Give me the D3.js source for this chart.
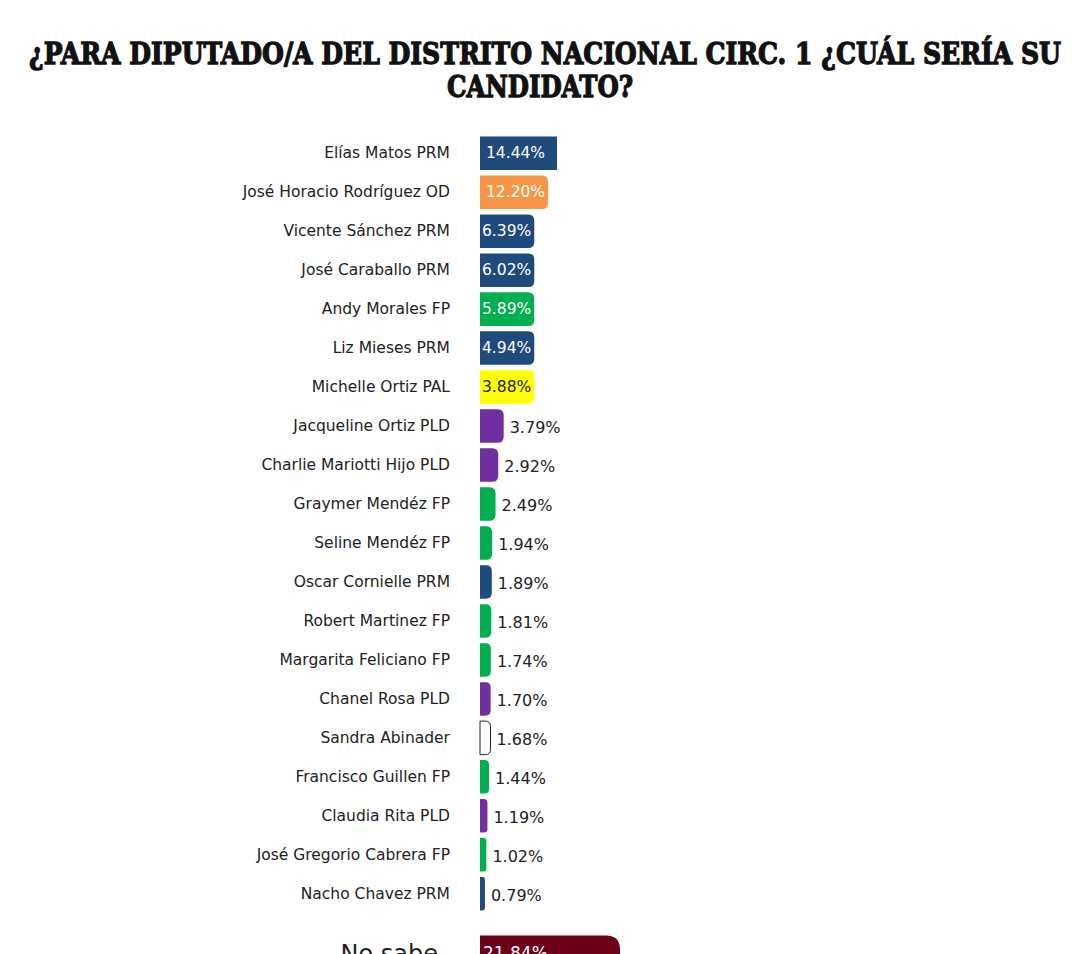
<!doctype html>
<html lang="es">
<head>
  <meta charset="utf-8">
  <title>Diputado/a Distrito Nacional Circ. 1</title>
  <style>
    html, body { margin: 0; padding: 0; background: #fff; }
    svg { display: block; }
    .title { font-family: "DejaVu Serif", serif; font-weight: bold; fill: #111; stroke: #111; stroke-width: 1.3px; }
    .name { font-family: "DejaVu Sans", Verdana, sans-serif; font-size: 15.5px; fill: #222; }
    .val { font-family: "DejaVu Sans", Verdana, sans-serif; font-size: 16px; fill: #222; }
    .inval { font-family: "DejaVu Sans", Verdana, sans-serif; font-size: 15.5px; }
  </style>
</head>
<body>
<svg width="1080" height="954"></svg>
<script src="https://d3js.org/d3.v7.min.js"></script>
<script>

  // data
  var candidates = ["Elías Matos PRM", "José Horacio Rodríguez OD", "Vicente Sánchez PRM", "José Caraballo PRM",
    "Andy Morales FP", "Liz Mieses PRM", "Michelle Ortiz PAL", "Jacqueline Ortiz PLD", "Charlie Mariotti Hijo PLD",
    "Graymer Mendéz FP", "Seline Mendéz FP", "Oscar Cornielle PRM", "Robert Martinez FP", "Margarita Feliciano FP",
    "Chanel Rosa PLD", "Sandra Abinader", "Francisco Guillen FP", "Claudia Rita PLD", "José Gregorio Cabrera FP",
    "Nacho Chavez PRM"];
  var values = [14.44, 12.20, 6.39, 6.02, 5.89, 4.94, 3.88, 3.79, 2.92, 2.49, 1.94, 1.89, 1.81, 1.74, 1.70, 1.68,
    1.44, 1.19, 1.02, 0.79];
  var parties = ["PRM", "OD", "PRM", "PRM", "FP", "PRM", "PAL", "PLD", "PLD", "FP", "FP", "PRM", "FP", "FP", "PLD",
    "IND", "FP", "PLD", "FP", "PRM"];
  var noSabeLabel = "No sabe";
  var noSabeValue = 21.84;

  var partyColor = {
    PRM: "#1f4a7c", OD: "#f79646", FP: "#00b050", PAL: "#ffff00", PLD: "#7030a0", IND: "#ffffff", NS: "#6d0019"
  };

  var svg = d3.select("svg");
  var x0 = 480;

  // title
  var title = svg.append("text").attr("class", "title").attr("text-anchor", "middle");
  title.append("tspan").attr("x", 545).attr("y", 64).style("font-size", "30px")
    .attr("textLength", 1032).attr("lengthAdjust", "spacingAndGlyphs")
    .text("¿PARA DIPUTADO/A DEL DISTRITO NACIONAL CIRC. 1 ¿CUÁL SERÍA SU");
  title.append("tspan").attr("x", 540).attr("y", 97).style("font-size", "30px")
    .attr("textLength", 186).attr("lengthAdjust", "spacingAndGlyphs")
    .text("CANDIDATO?");

  var rows = candidates.map(function (c, i) {
    return { name: c, value: values[i], party: parties[i], inside: values[i] >= 3.85 };
  });

  var y = d3.scaleBand().domain(candidates).range([131, 916]).padding(0.14);
  var x = d3.scaleLinear().domain([0, 4, 14.44, 21.84]).range([0, 25, 77, 140]);

  function barPath(w, h, r) {
    r = Math.min(r, w / 2, h / 2);
    return "M0,0H" + (w - r) + "Q" + w + ",0 " + w + "," + r + "V" + (h - r) +
      "Q" + w + "," + h + " " + (w - r) + "," + h + "H0Z";
  }

  var fmt = function (v) { return v.toFixed(2) + "%"; };

  var g = svg.append("g");
  var row = g.selectAll("g.row").data(rows).enter().append("g")
    .attr("class", "row")
    .attr("transform", function (d) { return "translate(0," + y(d.name) + ")"; });

  row.append("text").attr("class", "name")
    .attr("x", 450).attr("y", y.bandwidth() / 2 + 5)
    .attr("text-anchor", "end")
    .text(function (d) { return d.name; });

  // inside labels first, so bars can be sized to fit them
  row.each(function (d) {
    var sel = d3.select(this);
    var w = x(d.value);
    var label = null;
    if (d.inside) {
      var pad = d.value > 10 ? 6 : 2;
      label = sel.append("text").attr("class", "inval")
        .attr("x", x0 + pad).attr("y", y.bandwidth() / 2 + 5)
        .style("fill", d.party === "PAL" ? "#222" : "#fff")
        .text(fmt(d.value));
      w = Math.max(w, label.node().getComputedTextLength() + pad + 3);
    }
    sel.insert("path", label ? "text.inval" : null)
      .attr("transform", "translate(" + x0 + ",0)")
      .attr("d", barPath(w, y.bandwidth(), d.party === "PRM" && d.value > 10 ? 0 : 6))
      .style("fill", partyColor[d.party])
      .style("stroke", d.party === "IND" ? "#222" : "none")
      .style("stroke-width", 1);
    if (!d.inside) {
      sel.append("text").attr("class", "val")
        .attr("x", x0 + w + 6).attr("y", y.bandwidth() / 2 + 7)
        .text(fmt(d.value));
    }
  });

  // "No sabe" row, set apart below the list
  var yNs = y(candidates[candidates.length - 1]) + y.step() * 1.5;
  var ns = svg.append("g").attr("transform", "translate(0," + yNs + ")");
  ns.append("path")
    .attr("transform", "translate(" + x0 + ",0)")
    .attr("d", barPath(x(noSabeValue), y.bandwidth() + 4, 14))
    .style("fill", partyColor.NS);
  ns.append("text").attr("class", "inval")
    .attr("x", x0 + 3).attr("y", y.bandwidth() / 2 + 7)
    .style("fill", "#fff").style("font-size", "17px")
    .text(fmt(noSabeValue));
  ns.append("text").attr("class", "name")
    .attr("x", 438).attr("y", y.bandwidth() / 2 + 10)
    .attr("text-anchor", "end").style("font-size", "24px")
    .text(noSabeLabel);

</script>
</body>
</html>
